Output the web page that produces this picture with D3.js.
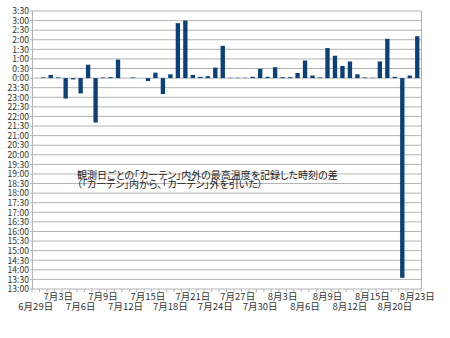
<!DOCTYPE html>
<html>
<head>
<meta charset="utf-8">
<script src="https://cdn.jsdelivr.net/npm/d3@7"></script>
<style>
  html, body { margin: 0; padding: 0; background: #fff; }
  svg { display: block; }
  text { font-family: "Noto Sans CJK JP", "Liberation Sans", sans-serif; }
  .note { font-feature-settings: "palt" 1; }
</style>
</head>
<body>
<svg id="chart" width="450" height="338"></svg>
<script>
// Observation days (one bar each)
const categories = [
  "6月29日", "6月30日", "7月1日", "7月3日", "7月4日", "7月5日", "7月6日", "7月7日",
  "7月8日", "7月9日", "7月10日", "7月11日", "7月12日", "7月13日", "7月14日", "7月15日",
  "7月16日", "7月17日", "7月18日", "7月19日", "7月20日", "7月21日", "7月22日", "7月23日",
  "7月24日", "7月25日", "7月26日", "7月27日", "7月28日", "7月29日", "7月30日", "7月31日",
  "8月1日", "8月3日", "8月4日", "8月5日", "8月6日", "8月7日", "8月8日", "8月9日",
  "8月10日", "8月11日", "8月12日", "8月13日", "8月14日", "8月15日", "8月16日", "8月17日",
  "8月20日", "8月21日", "8月22日", "8月23日"
];

// Difference of the time of max temperature, inside minus outside, in minutes
const diffMinutes = [
  0, 2, 10, 2, -64, -4, -48, 42,
  -139, 2, 3, 58, 0, 2, 0, -9,
  17, -50, 12, 172, 180, 10, 4, 6,
  33, 101, 1, 1, 1, 4, 29, 4,
  34, 3, 3, 16, 55, 8, 2, 94,
  70, 38, 52, 12, 2, 1, 52, 123,
  4, -625, 8, 131
];

// Vertical axis labels (clock notation, bottom to top)
const yTickLabels = [
  "13:00", "13:30", "14:00", "14:30", "15:00", "15:30", "16:00", "16:30",
  "17:00", "17:30", "18:00", "18:30", "19:00", "19:30", "20:00", "20:30",
  "21:00", "21:30", "22:00", "22:30", "23:00", "23:30", "0:00", "0:30",
  "1:00", "1:30", "2:00", "2:30", "3:00", "3:30"
];

const noteLines = [
  "観測日ごとの「カーテン」内外の最高温度を記録した時刻の差",
  "（「カーテン」内から、「カーテン」外を引いた）"
];

// clock label -> signed minutes relative to 0:00
function labelToMinutes(s) {
  const [h, m] = s.split(":").map(Number);
  const t = h * 60 + m;
  return t >= 12 * 60 ? t - 24 * 60 : t;
}
const yTickValues = yTickLabels.map(labelToMinutes);

const svg = d3.select("#chart");
const plotLeft = 32, plotRight = 421, plotTop = 11, plotBottom = 289;

const x = d3.scaleBand()
  .domain(categories)
  .range([plotLeft, plotRight])
  .paddingInner(0.42)
  .paddingOuter(0.21);

const y = d3.scaleLinear()
  .domain([d3.min(yTickValues), d3.max(yTickValues)])
  .range([plotBottom, plotTop]);

const gridColor = "#b3b3b3";

// horizontal grid
svg.append("g")
  .selectAll("line")
  .data(yTickValues)
  .join("line")
  .attr("x1", plotLeft - 2)
  .attr("x2", plotRight)
  .attr("y1", d => y(d))
  .attr("y2", d => y(d))
  .attr("stroke", gridColor)
  .attr("stroke-width", 1);

// frame sides
svg.append("line")
  .attr("x1", plotLeft + 0.5).attr("x2", plotLeft + 0.5)
  .attr("y1", plotTop).attr("y2", plotBottom)
  .attr("stroke", gridColor);
svg.append("line")
  .attr("x1", plotRight + 0.5).attr("x2", plotRight + 0.5)
  .attr("y1", plotTop).attr("y2", plotBottom)
  .attr("stroke", gridColor);

// y axis labels
const yAxis = d3.axisLeft(y)
  .tickValues(yTickValues)
  .tickFormat((d, i) => yTickLabels[i])
  .tickSize(0)
  .tickPadding(0);
const gy = svg.append("g")
  .attr("transform", `translate(${plotLeft - 3},0)`)
  .call(yAxis);
gy.select(".domain").remove();
gy.selectAll("text")
  .attr("font-size", "8.6px")
  .attr("fill", "#333")
  .style("font-family", "'Noto Sans CJK JP', sans-serif");

// category boundary ticks below the plot
const step = x.step();
svg.append("g")
  .selectAll("line")
  .data(d3.range(categories.length + 1))
  .join("line")
  .attr("x1", i => plotLeft + i * step)
  .attr("x2", i => plotLeft + i * step)
  .attr("y1", plotBottom)
  .attr("y2", plotBottom + 3)
  .attr("stroke", gridColor);

// bars
svg.append("g")
  .selectAll("rect")
  .data(diffMinutes)
  .join("rect")
  .attr("x", (d, i) => x(categories[i]))
  .attr("width", x.bandwidth())
  .attr("y", d => y(Math.max(0, d)))
  .attr("height", d => Math.abs(y(d) - y(0)))
  .attr("fill", "#0a4179");

// date labels, every third day, staggered on two rows
const xAxis = d3.axisBottom(x)
  .tickValues(categories.filter((c, i) => i % 3 === 0))
  .tickSize(0)
  .tickPadding(0);
const gx = svg.append("g")
  .attr("transform", `translate(0,${plotBottom})`)
  .call(xAxis);
gx.select(".domain").remove();
gx.selectAll(".tick text")
  .attr("font-size", "9.5px")
  .attr("fill", "#333")
  .style("font-family", "'Noto Sans CJK JP', sans-serif")
  .attr("dy", null)
  .attr("y", (d) => (categories.indexOf(d) / 3) % 2 === 1 ? 11 : 21);

// note text
svg.append("g")
  .selectAll("text")
  .data(noteLines)
  .join("text")
  .attr("class", "note")
  .attr("x", 77)
  .attr("y", (d, i) => 179 + i * 9.3)
  .attr("font-size", "10px")
  .attr("fill", "#222")
  .text(d => d);
</script>
</body>
</html>
